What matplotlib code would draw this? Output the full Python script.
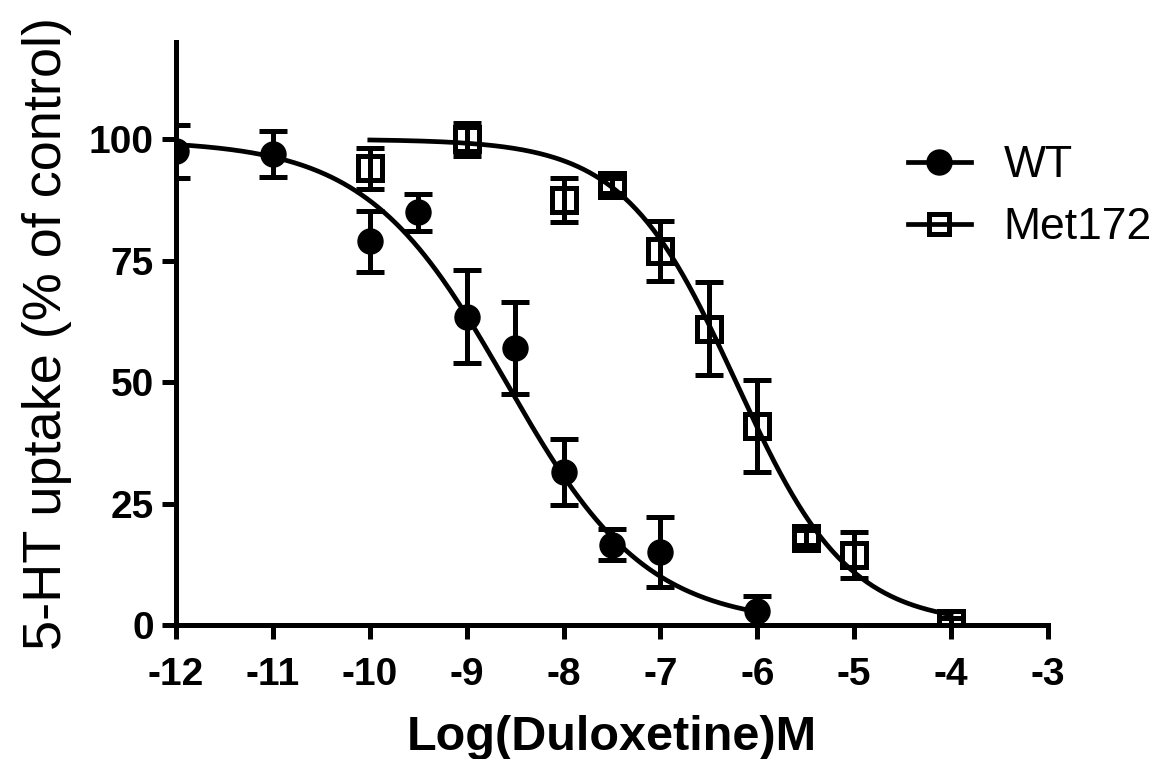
import matplotlib
matplotlib.use("Agg")
import matplotlib.pyplot as plt
import numpy as np

plt.rcParams['font.family'] = ['Liberation Sans', 'DejaVu Sans']

# WT data (log M, % of control, SEM)
wt_x = [-12, -11, -10, -9.5, -9, -8.5, -8, -7.5, -7, -6]
wt_y = [97.5, 97, 79, 85, 63.5, 57, 31.5, 16.5, 15, 2.8]
wt_err = [5.5, 4.8, 6.3, 3.8, 9.5, 9.5, 6.8, 3.2, 7.2, 3.2]

# Met172 data
met_x = [-10, -9, -8, -7.5, -7, -6.5, -6, -5.5, -5, -4]
met_y = [94, 100, 87.5, 90.5, 77, 61, 41, 18, 14.4, 0.5]
met_err = [4.2, 3.4, 4.6, 1.5, 6.2, 9.6, 9.4, 1.5, 4.8, 1.0]

# sigmoidal fit parameters (top, bottom, logIC50, hill)
wt_fit = (99.8, 0.0, -8.59, 0.60)
met_fit = (100.0, 0.0, -6.22, 0.75)

xticks = [-12, -11, -10, -9, -8, -7, -6, -5, -4, -3]
yticks = [0, 25, 50, 75, 100]


def curve(x, p):
    top, bottom, logic50, hill = p
    return bottom + (top - bottom) / (1 + 10 ** (hill * (x - logic50)))


fig = plt.figure(figsize=(11.62, 7.59), dpi=100)
ax = fig.add_axes([0.1515, 0.1765, 0.7504, 0.768])

xs = np.linspace(min(wt_x), max(wt_x), 300)
ax.plot(xs, curve(xs, wt_fit), color='black', lw=3.4, zorder=2)
xs = np.linspace(min(met_x), max(met_x), 300)
ax.plot(xs, curve(xs, met_fit), color='black', lw=3.4, zorder=2)

ax.errorbar(wt_x, wt_y, yerr=wt_err, fmt='o', color='black', ms=18,
            elinewidth=3.6, capsize=10, capthick=3.6, zorder=3)
ax.errorbar(met_x, met_y, yerr=met_err, fmt='s', color='black', ms=17.5,
            mfc='none', mew=3.6, elinewidth=3.6, capsize=10, capthick=3.6, zorder=3)

# legend handles
h1, = ax.plot([], [], '-o', color='black', lw=3.4, ms=18)
h2, = ax.plot([], [], '-s', color='black', lw=3.4, ms=15, mfc='none', mew=3.6)
leg = ax.legend([h1, h2], ['WT', 'Met172'], loc='upper left',
                bbox_to_anchor=(0.794, 0.892), frameon=False, fontsize=32,
                handlelength=1.4, handletextpad=0.74, labelspacing=0.48)

ax.set_xlim(-12, -3)
ax.set_ylim(0, 120)
ax.set_xticks(xticks)
ax.set_yticks(yticks)
ax.set_xticklabels([str(t) for t in xticks], fontsize=28, fontweight='bold')
ax.set_yticklabels([str(t) for t in yticks], fontsize=28, fontweight='bold')
ax.tick_params(direction='out', length=10, width=3.6)
ax.tick_params(axis='x', pad=13)
ax.tick_params(axis='y', pad=6)

for side in ['top', 'right']:
    ax.spines[side].set_visible(False)
for side in ['left', 'bottom']:
    ax.spines[side].set_linewidth(3.6)
ax.spines['left'].set_bounds(0, 120)

ax.set_xlabel('Log(Duloxetine)M', fontsize=35, fontweight='bold', labelpad=16)
ax.set_ylabel('5-HT uptake (% of control)', fontsize=39, labelpad=12)

fig.savefig('out.png', dpi=100)
plt.close()
